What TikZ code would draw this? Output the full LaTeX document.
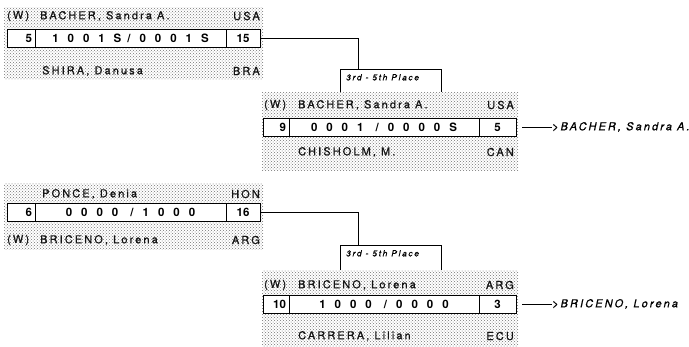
\documentclass[tikz,border=0pt]{standalone}
\usepackage{fontspec}
\usepackage{tikz}
\usetikzlibrary{positioning,patterns}
\setmainfont{TeX Gyre Heros}
\newfontfamily\namefont{TeX Gyre Heros}[LetterSpace=19,FakeBold=0.6]
\newfontfamily\scorefont{TeX Gyre Heros}[LetterSpace=78]
\definecolor{inkgray}{RGB}{20,20,20}
\tikzset{
  % ---- shaded match bands ---------------------------------------------
  shade/.style={pattern=crosshatch dots, pattern color=black!55},
  % ---- score line cells -----------------------------------------------
  cell/.style={draw=black, line width=0.8pt, fill=white, outer sep=0pt,
    inner xsep=3pt, inner ysep=0pt, minimum height=18pt, anchor=west,
    font=\normalfont\bfseries\fontsize{11.5}{12}\selectfont},
  seed/.style={cell, text width=#1, align=right},
  pts/.style={cell, minimum width=#1},
  res/.style={cell, minimum width=#1,
    font=\scorefont\bfseries\fontsize{11.5}{12}\selectfont},
  % ---- labels ---------------------------------------------------------
  nm/.style={font=\namefont\fontsize{11}{12}\selectfont, inner sep=0pt,
    text=inkgray},
  nml/.style={nm, anchor=west},
  nmr/.style={nm, anchor=east},
  plc/.style={font=\namefont\itshape\fontsize{8.5}{10}\selectfont,
    inner sep=0pt, anchor=north west},
  % ---- connectors -----------------------------------------------------
  link/.style={draw=black, line width=0.7pt},
}

\begin{document}
\begin{tikzpicture}[x=1pt,y=-1pt]
\useasboundingbox (0,0) rectangle (689,346);

% ============================ shaded bands ===============================
\fill[shade] (4,7) rectangle (263,79);
\fill[shade] (262,92) rectangle (518,170);
\fill[shade] (4,183) rectangle (263,249);
\fill[shade] (262,270) rectangle (518,346);

% ============================ match 1 (top left) =========================
\node[nml] (m1w)  at (7,16)   {(W)};
\node[nml] (m1a)  at (40,16)  {BACHER, Sandra A.};
\node[nmr] (m1ac) at (260,16) {USA};
\node[seed=22pt] (m1s) at (7,38) {5};
\node[res=191pt, right=0pt of m1s] (m1r) {1001S\kern6pt/0001S};
\node[pts=34pt, right=0pt of m1r] (m1p) {15};
\node[nml] (m1b)  at (42,71)  {SHIRA, Danusa};
\node[nmr] (m1bc) at (260,71) {BRA};

% ============================ match 2 (bottom left) ======================
\node[nml] (m2a)  at (42,194)  {PONCE, Denia};
\node[nmr] (m2ac) at (260,194) {HON};
\node[seed=22pt] (m2s) at (7,212) {6};
\node[res=191pt, right=0pt of m2s] (m2r) {0000 /1000};
\node[pts=34pt, right=0pt of m2r] (m2p) {16};
\node[nml] (m2w)  at (7,240)   {(W)};
\node[nml] (m2b)  at (40,240)  {BRICENO, Lorena};
\node[nmr] (m2bc) at (260,240) {ARG};

% ============================ 3rd - 5th place ============================
\node[minimum width=101pt, minimum height=23pt, inner sep=0pt, anchor=north west]
  (p1) at (340,69) {};
\node[minimum width=101pt, minimum height=25pt, inner sep=0pt, anchor=north west]
  (p2) at (340,245) {};
\draw[link] (p1.south west) |- (p1.north east) -- (p1.south east);
\draw[link] (p2.south west) |- (p2.north east) -- (p2.south east);
\node[plc] (p1t) at ([xshift=6pt,yshift=-5pt]p1.north west) {3rd - 5th Place};
\node[plc] (p2t) at ([xshift=6pt,yshift=-5pt]p2.north west) {3rd - 5th Place};
\coordinate (j1) at ([xshift=18pt]p1.north west);
\coordinate (j2) at ([xshift=18pt]p2.north west);
\draw[link] (m1p.east) -| (j1);
\draw[link] (m2p.east) -| (j2);

% ============================ match 3 (upper right) ======================
\node[nml] (m3w)  at (264,105) {(W)};
\node[nml] (m3a)  at (298,105) {BACHER, Sandra A.};
\node[nmr] (m3ac) at (514,105) {USA};
\node[seed=20pt] (m3s) at (263,127) {9};
\node[res=190pt, right=0pt of m3s] (m3r) {0001 /0000S};
\node[pts=37pt, right=0pt of m3r] (m3p) {5};
\node[nml] (m3b)  at (298,152) {CHISHOLM, M.};
\node[nmr] (m3bc) at (514,152) {CAN};

% ============================ match 4 (lower right) ======================
\node[nml] (m4w)  at (264,285) {(W)};
\node[nml] (m4a)  at (298,285) {BRICENO, Lorena};
\node[nmr] (m4ac) at (514,285) {ARG};
\node[seed=20pt] (m4s) at (263,304) {10};
\node[res=190pt, right=0pt of m4s] (m4r) {1000 /0000};
\node[pts=37pt, right=0pt of m4r] (m4p) {3};
\node[nml] (m4b)  at (298,336) {CARRERA, Lilian};
\node[nmr] (m4bc) at (514,336) {ECU};

% ============================ results ====================================
\node[nml, text=black] (w1) at (552,127) {>\kern2pt\itshape BACHER, Sandra A.};
\node[nml, text=black] (w2) at (552,304) {>\kern2pt\itshape BRICENO, Lorena};
\coordinate (w1a) at ([xshift=6pt]m3p.east);
\coordinate (w2a) at ([xshift=6pt]m4p.east);
\draw[link, line width=0.6pt] (w1a) -- (w1.west);
\draw[link, line width=0.6pt] (w2a) -- (w2.west);

\end{tikzpicture}
\end{document}
